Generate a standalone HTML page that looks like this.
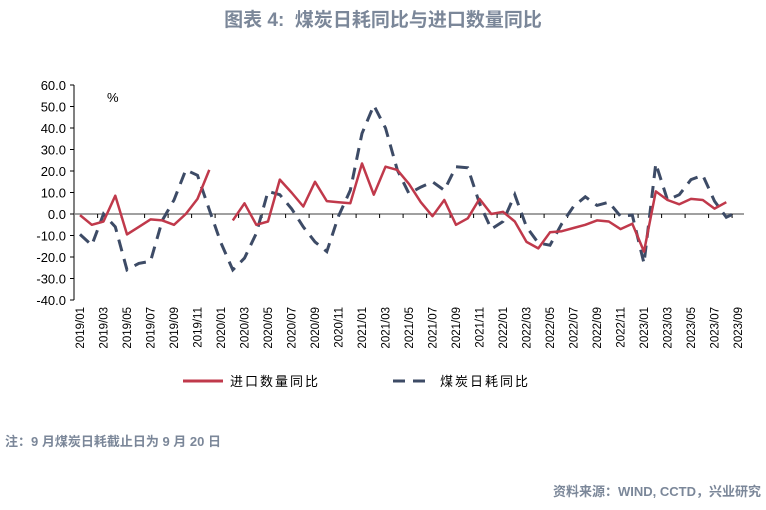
<!DOCTYPE html>
<html><head><meta charset="utf-8"><style>
body{margin:0;width:766px;height:505px;background:#fff;overflow:hidden;font-family:"Liberation Sans","Noto Sans CJK SC",sans-serif;}
</style></head><body>
<svg id="c" width="766" height="505" xmlns="http://www.w3.org/2000/svg">
<text x="383" y="26" text-anchor="middle" font-size="19" font-weight="bold" fill="#7b8799" font-family="Liberation Sans,Noto Sans CJK SC,sans-serif">图表 4:&#160;&#160;煤炭日耗同比与进口数量同比</text>
<text x="107" y="102" font-size="13" fill="#000">%</text>
<g id="plot"></g>
<g>
<line x1="183" y1="381" x2="223" y2="381" stroke="#c0394b" stroke-width="3"/>
<text x="230" y="386" font-size="13" letter-spacing="2">进口数量同比</text>
<line x1="393" y1="381" x2="433" y2="381" stroke="#3d4b66" stroke-width="3" stroke-dasharray="12,8"/>
<text x="440" y="386" font-size="13" letter-spacing="2">煤炭日耗同比</text>
</g>
<text x="5" y="446" font-size="13" font-weight="bold" fill="#7b8799">注：9 月煤炭日耗截止日为 9 月 20 日</text>
<text x="761" y="496" text-anchor="end" font-size="13" font-weight="bold" fill="#7b8799">资料来源：WIND, CCTD，兴业研究</text>
</svg>
<script>
const imports=[-0.5,-5,-3.5,8.5,-9.5,-6,-2.5,-3,-5,0,7,20.5,null,-3,5,-5,-3.5,16,10,3.5,15,6,5.5,5,23.5,9,22,20.5,14,5.5,-1,6.5,-5,-2,7,0,1,-3.5,-13,-16,-8.5,-8,-6.5,-5,-3,-3.5,-7,-4.5,-17.5,10.5,6.5,4.5,7,6.5,2.5,5.5,null];
const coal=[-9.5,-14.5,0,-6,-26,-23,-22,-3,6.5,20.5,18,2,-13.5,-26,-20.5,-9,10.5,9,2.5,-6,-13,-17.5,-1,11,37.5,50.5,40,20.5,9.5,12.5,15,11,22,21.5,5,-7,-3.5,9,-6,-13.5,-14.5,-4.5,3.5,8,4,5.5,-1,-0.5,-23,23.5,6.5,9,16,18,6,-1.5,1];
const yTicks=[60,50,40,30,20,10,0,-10,-20,-30,-40];
const months=[];
for(let y=2019;y<=2023;y++)for(let m=1;m<=12;m++){if(y===2023&&m>9)break;months.push(y+'/'+String(m).padStart(2,'0'));}
const NS='http://www.w3.org/2000/svg';
const g=document.getElementById('plot');
const X=i=>80+11.75*i;
const Y=v=>214-v*2.15;
function el(t,a){const e=document.createElementNS(NS,t);for(const k in a)e.setAttribute(k,a[k]);g.appendChild(e);return e;}
const ax=el('line',{x1:74,y1:Y(60),x2:74,y2:Y(-40),stroke:'#000','stroke-width':1});


yTicks.forEach(v=>{
 const t=el('line',{x1:70,y1:Y(v),x2:74,y2:Y(v),stroke:'#000'});
 
 
 const l=el('text',{x:66,y:Y(v)+5,'text-anchor':'end','font-size':13,fill:'#000'});
 l.textContent=v.toFixed(1);
 
 
});
const xa=el('line',{x1:74,y1:Y(0),x2:X(months.length-1)+6,y2:Y(0),stroke:'#808080','stroke-width':1.5});


for(let i=2;i<months.length;i+=2){
 const t=el('line',{x1:X(i)-5.9,y1:Y(0),x2:X(i)-5.9,y2:Y(0)+4,stroke:'#000'});
 
 
}
months.forEach((m,i)=>{
 if(i%2)return;
 const l=el('text',{x:0,y:0,'font-size':11.5,fill:'#000','text-anchor':'end',transform:`translate(${X(i)+4},307) rotate(-90)`});
 l.textContent=m;
 
 
});
function path(arr){let d='',pen=false;arr.forEach((v,i)=>{if(v===null){pen=false;return;}d+=(pen?'L':'M')+X(i).toFixed(1)+','+Y(v).toFixed(1);pen=true;});return d;}
const pc=el('path',{d:path(coal),fill:'none',stroke:'#3d4b66','stroke-width':3,'stroke-dasharray':'12,8'});


const pi=el('path',{d:path(imports),fill:'none',stroke:'#c0394b','stroke-width':2.5,'stroke-linejoin':'round'});


</script>
</body></html>
